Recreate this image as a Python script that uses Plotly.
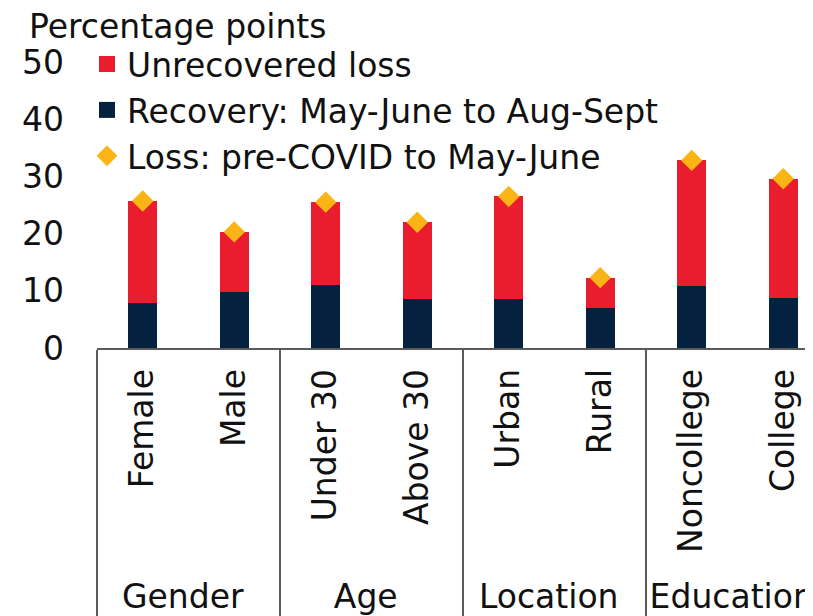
import plotly.graph_objects as go

groups = ["Gender", "Gender", "Age", "Age", "Location", "Location", "Education", "Education"]
categories = ["Female", "Male", "Under 30", "Above 30", "Urban", "Rural", "Noncollege", "College"]
loss = [25.7, 20.3, 25.5, 22.0, 26.5, 12.3, 32.8, 29.6]
recovery = [7.8, 9.8, 11.0, 8.6, 8.6, 7.0, 10.9, 8.8]
unrecovered = [17.9, 10.5, 14.5, 13.4, 17.9, 5.3, 21.9, 20.8]
y_ticks = [0, 10, 20, 30, 40, 50]

RED = "#E91D2E"
NAVY = "#04223F"
GOLD = "#FBB416"
FONT = "DejaVu Sans"
FS = 33

# page body has an 8px margin; figure coordinates below are screen - 8
W, H = 813, 616
L, T = 89, 54
plot_bottom = 340.5
plot_right = 805
R = W - plot_right
B = H - plot_bottom
pw = plot_right - L
ph = plot_bottom - T


def px_to_xpaper(px):
    return (px - L) / pw


def px_to_ypaper(py):
    return (plot_bottom - py) / ph


x = [groups, categories]

fig = go.Figure()
fig.add_trace(go.Bar(x=x, y=recovery, name="Recovery: May-June to Aug-Sept",
                     marker=dict(color=NAVY, line=dict(width=0)), width=0.32,
                     showlegend=False, legendgroup="rec"))
fig.add_trace(go.Bar(x=x, y=unrecovered, name="Unrecovered loss",
                     marker=dict(color=RED, line=dict(width=0)), width=0.32,
                     showlegend=False, legendgroup="unrec"))
# legend entries (no visible points)
fig.add_trace(go.Scatter(x=[[groups[0]], [categories[0]]], y=[None], mode="markers",
                         name="Unrecovered loss", legendgroup="unrec", legendrank=1,
                         marker=dict(symbol="square", size=16, color=RED)))
fig.add_trace(go.Scatter(x=[[groups[0]], [categories[0]]], y=[None], mode="markers",
                         name="Recovery: May-June to Aug-Sept", legendgroup="rec", legendrank=2,
                         marker=dict(symbol="square", size=16, color=NAVY)))
fig.add_trace(go.Scatter(x=x, y=loss, mode="markers", name="Loss: pre-COVID to May-June",
                         legendgroup="loss", legendrank=3,
                         marker=dict(symbol="diamond", size=16.5, color=GOLD)))

fig.update_layout(
    width=W, height=H,
    margin=dict(l=L, r=R, t=T, b=B),
    paper_bgcolor="white", plot_bgcolor="white",
    barmode="stack",
    font=dict(family=FONT, size=FS, color="#111111"),
    showlegend=True,
    legend=dict(x=px_to_xpaper(79), y=px_to_ypaper(28), xanchor="left", yanchor="top",
                bgcolor="rgba(0,0,0,0)", font=dict(size=FS), itemwidth=30,
                traceorder="grouped", tracegroupgap=0),
    annotations=[dict(text="Percentage points", xref="paper", yref="paper",
                      x=px_to_xpaper(19), y=px_to_ypaper(18), xanchor="left", yanchor="middle",
                      showarrow=False, font=dict(size=FS))],
)
fig.update_xaxes(
    type="multicategory", automargin=False,
    range=[-0.5, 7.5 - 16 / 91.5],
    showline=True, linecolor="#5a5a5a", linewidth=1.5,
    showdividers=True, dividercolor="#5a5a5a", dividerwidth=1.5,
    tickangle=-90, ticks="", showgrid=False, ticklabelstandoff=6,
    tickfont=dict(size=FS),
)
fig.update_yaxes(
    automargin=False,
    range=[0, 50], tickvals=y_ticks, ticks="", showline=False, showgrid=False,
    zeroline=False, ticklabelstandoff=32, tickfont=dict(size=FS),
)

fig.write_html("out.html")
